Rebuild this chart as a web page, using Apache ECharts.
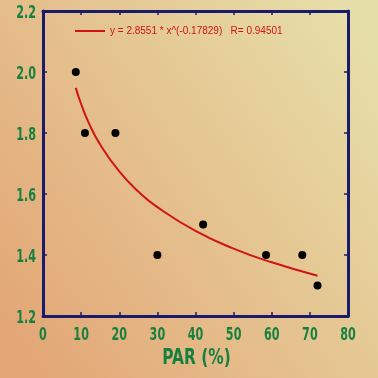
<!DOCTYPE html>
<html><head><meta charset="utf-8">
<script src="https://cdn.jsdelivr.net/npm/echarts@6/dist/echarts.min.js"></script>
<style>html,body{margin:0;padding:0;}#c{width:378px;height:378px;}</style>
</head><body><div id="c"></div>
<script>
// observed points (PAR %, value)
const parX = [8.6, 11, 19, 30, 42, 58.5, 68, 72];
const valY = [2.0, 1.8, 1.8, 1.4, 1.5, 1.4, 1.4, 1.3];
// fitted curve
const curveX = [8.6, 10, 12, 15, 20, 25, 30, 40, 50, 60, 72];
const curveY = [1.948, 1.895, 1.833, 1.762, 1.674, 1.608, 1.557, 1.479, 1.421, 1.376, 1.332];
// tick labels
const xTicks = [0, 10, 20, 30, 40, 50, 60, 70, 80];
const yTicks = ['1.2', '1.4', '1.6', '1.8', '2.0', '2.2'];
const fitLabel = 'y = 2.8551 * x^(-0.17829)   R= 0.94501';
const xTitle = 'PAR (%)';

const navy = '#1b1b6e';
const green = '#17803f';
const lblFont = '"DejaVu Sans",sans-serif';

const chart = echarts.init(document.getElementById('c'));
const axisCommon = {
  axisLine: {show: true, onZero: false, lineStyle: {color: navy, width: 3}},
  axisTick: {show: true, inside: true, length: 4, lineStyle: {color: navy, width: 1.5}},
  axisLabel: {show: false},
  splitLine: {show: false}
};
chart.setOption({
  backgroundColor: new echarts.graphic.LinearGradient(0, 0.85, 1, 0.15, [
    {offset: 0, color: '#e3a676'}, {offset: 1, color: '#e6dea8'}]),
  animation: false,
  grid: {left: 43, right: 30, top: 11, bottom: 62},
  legend: {
    left: 70, top: 21, itemWidth: 30, itemHeight: 2, itemGap: 4,
    data: [{name: fitLabel, icon: 'rect'}],
    textStyle: {color: '#d01414', fontSize: 10, fontFamily: '"Liberation Sans",Arial,sans-serif'}
  },
  xAxis: [
    Object.assign({type: 'value', min: 0, max: 80, interval: 10, position: 'bottom'}, axisCommon),
    Object.assign({type: 'value', min: 0, max: 80, interval: 10, position: 'top'}, axisCommon)
  ],
  yAxis: [
    Object.assign({type: 'value', min: 1.2, max: 2.2, interval: 0.2, position: 'left'}, axisCommon),
    Object.assign({type: 'value', min: 1.2, max: 2.2, interval: 0.2, position: 'right'}, axisCommon)
  ],
  series: [
    {name: fitLabel, type: 'line', smooth: true, symbol: 'none',
      lineStyle: {color: '#d01414', width: 2}, itemStyle: {color: '#d01414'},
      data: curveX.map((x, i) => [x, curveY[i]]), z: 2},
    {name: 'obs', type: 'scatter', symbolSize: 8, itemStyle: {color: '#000', opacity: 1},
      data: parX.map((x, i) => [x, valY[i]]), z: 3}
  ]
});

// condensed bold tick labels positioned through the axes' own scales
const labelStyle = {fill: green, fontSize: 18, fontWeight: 'bold', fontFamily: lblFont};
const xBase = chart.convertToPixel({yAxisIndex: 0}, 1.2);
const yBase = chart.convertToPixel({xAxisIndex: 0}, 0);
const gfx = [];
xTicks.forEach(v => {
  gfx.push({type: 'text', x: chart.convertToPixel({xAxisIndex: 0}, v), y: xBase + 19, scaleX: 0.62,
    style: Object.assign({text: String(v), align: 'center', verticalAlign: 'middle'}, labelStyle)});
});
yTicks.forEach(t => {
  gfx.push({type: 'text', x: yBase - 7, y: chart.convertToPixel({yAxisIndex: 0}, parseFloat(t)) + 2, scaleX: 0.62,
    style: Object.assign({text: t, align: 'right', verticalAlign: 'middle'}, labelStyle)});
});
const xMid = (chart.convertToPixel({xAxisIndex: 0}, 0) + chart.convertToPixel({xAxisIndex: 0}, 80)) / 2;
gfx.push({type: 'text', x: xMid + 1, y: xBase + 42, scaleX: 0.7,
  style: {text: xTitle, align: 'center', verticalAlign: 'middle', fill: green, fontSize: 22, fontWeight: 'bold', fontFamily: lblFont}});
chart.setOption({graphic: gfx});
</script></body></html>
